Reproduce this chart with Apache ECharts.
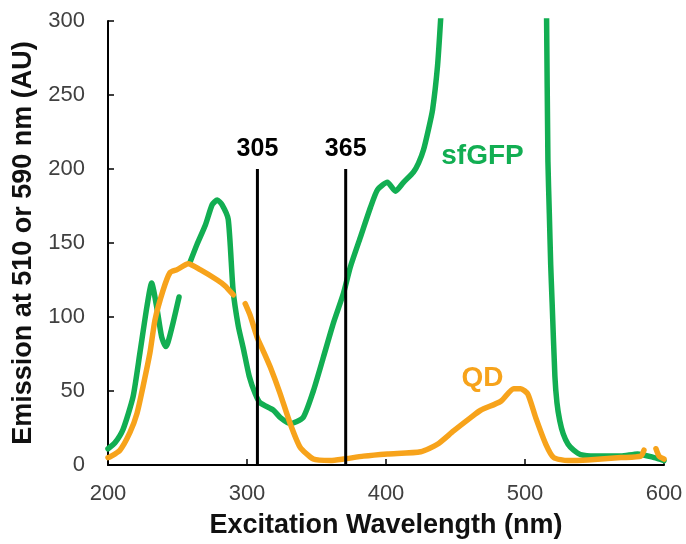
<!DOCTYPE html>
<html>
<head>
<meta charset="utf-8">
<script src="https://cdn.jsdelivr.net/npm/echarts@6/dist/echarts.min.js"></script>
<style>
  html, body { margin: 0; padding: 0; background: #fff; }
  #chart { width: 686px; height: 544px; }
</style>
</head>
<body>
<div id="chart"></div>
<script>
// ---- Data ----
const sfgfpWavelength = [200, 205, 210.8, 218, 223, 228, 231.4, 235, 238.6, 241.5, 243.2, 246.8, 251.1, 255,
  259, 264, 270, 275, 278.6, 282, 286.5, 290, 293.7, 297.3, 301.6, 306, 309.5, 319, 324, 331, 340.3, 347.7,
  355, 362.2, 369.4, 374.4, 381.6, 388.8, 393.9, 401, 406.8, 412.6, 419.8, 423.4, 427, 430.6, 433.5, 437.1,
  439.3, 441, 450, 470, 490, 505, 512, 515.5, 516.5, 517.5, 518.5, 519.5, 521.5, 523, 525, 527.5, 531, 535,
  540, 550, 569, 581, 593, 600];
const sfgfpEmission = [11, 15, 24, 46, 76, 107, 123, 107, 86.5, 80, 83, 96, 113.5, null,
  137, 149, 162, 176, 179, 176, 166, 118, 94, 79, 60, 48, 42, 37, 32, 28, 32, 50,
  73, 96, 116, 134, 154, 174, 186, 191, 185, 191, 198, 204, 213, 227, 240, 270,
  301, 330, 500, 800, 1000, 900, 600, 305, 205, 170, 135, 110, 60, 42, 30, 21, 14, 10,
  7, 6, 6, 7.5, 5, 3];

const qdWavelength = [200, 201.4, 208.6, 215.8, 220.9, 225.2, 230.2, 233.8, 239.6, 244.6, 249.7, 257.7, 266.3,
  278.6, 284.3, 290.1, 294, 298.7, 302.3, 307.4, 311.7, 316.8, 323.7, 330.9, 338.1, 347.7, 360, 369.4,
  383.8, 401, 425, 437, 448.6, 460.9, 468.1, 482.5, 491.9, 496.9, 502, 507.7, 515, 520.7, 530.8, 545.2,
  569, 583.4, 585.6, 590, 594.2, 596.4, 600];
const qdEmission = [5, 5.4, 10, 22, 35, 53, 76, 98, 118, 130, 132, 136, 132,
  125, 121, 115, null, 109, 101, 86, 77, 66, 48.6, 28.4, 12.2, 4, 3, 4,
  6, 7.5, 9, 14, 23, 32, 37, 43, 51.6, 51.6, 48, 32, 14, 5, 3, 3.4,
  5, 6, 10, null, 11, 6, 4];

const markerWavelengths = [307.5, 371];
const markerLabels = ['305', '365'];
const markerTop = 200;

const annotationText = ['sfGFP', 'QD'];
const annotationX = [469.4, 469.4];
const annotationY = [208.3, 58.8];

const xTickMin = 200, xTickMax = 600, xTickStep = 100;
const yTickMin = 0, yTickMax = 300, yTickStep = 50;

// ---- Styles ----
const GREEN = '#12AE52';
const ORANGE = '#F7A31B';
const FONT = 'Liberation Sans, Arial, sans-serif';

function zip(xs, ys) { return xs.map((x, i) => [x, ys[i]]); }

const markerLineSeries = markerWavelengths.map((wl) => ({
  type: 'line',
  data: [[wl, 0], [wl, markerTop]],
  showSymbol: false,
  lineStyle: { color: '#000', width: 3 },
  silent: true, z: 5
}));

const markerLabelSeries = {
  type: 'scatter',
  data: markerWavelengths.map((wl, i) => ({ value: [wl, markerTop], name: markerLabels[i] })),
  symbol: 'circle', symbolSize: 0,
  itemStyle: { color: '#000', opacity: 1 },
  label: {
    show: true, formatter: (p) => p.name, position: 'top', distance: 7,
    fontFamily: FONT, fontSize: 25, fontWeight: 'bold', color: '#000', opacity: 1
  },
  silent: true, z: 6
};

const annotationSeries = annotationText.map((t, i) => ({
  type: 'scatter',
  data: [{ value: [annotationX[i], annotationY[i]], name: t }],
  symbol: 'circle', symbolSize: 0,
  itemStyle: { color: i === 0 ? GREEN : ORANGE, opacity: 1 },
  label: {
    show: true, formatter: (p) => p.name, position: 'inside',
    fontFamily: FONT, fontSize: 28, fontWeight: 'bold',
    color: i === 0 ? GREEN : ORANGE, opacity: 1, textBorderWidth: 0
  },
  silent: true, z: 6
}));

const axisCommon = {
  axisLine: { show: true, lineStyle: { color: '#000', width: 2 } },
  axisTick: { show: true, inside: true, length: 6, lineStyle: { color: '#000', width: 1.5 } },
  splitLine: { show: false },
  nameLocation: 'middle',
  nameTextStyle: { fontFamily: FONT, fontSize: 27, fontWeight: 'bold', color: '#111' }
};

const chart = echarts.init(document.getElementById('chart'), null, { renderer: 'canvas' });
chart.setOption({
  animation: false,
  backgroundColor: '#fff',
  grid: { left: 108, right: 22, top: 21, bottom: 79, containLabel: false },
  xAxis: Object.assign({}, axisCommon, {
    type: 'value', min: xTickMin, max: xTickMax, interval: xTickStep,
    name: 'Excitation Wavelength (nm)', nameGap: 47,
    axisLabel: { fontFamily: FONT, fontSize: 22, color: '#404040', margin: 18 }
  }),
  yAxis: Object.assign({}, axisCommon, {
    type: 'value', min: yTickMin, max: yTickMax, interval: yTickStep,
    name: 'Emission at 510 or 590 nm (AU)', nameGap: 70, nameRotate: 90,
    axisLabel: { fontFamily: FONT, fontSize: 22, color: '#404040', margin: 23 }
  }),
  series: [
    {
      name: 'sfGFP', type: 'line', data: zip(sfgfpWavelength, sfgfpEmission),
      showSymbol: false, connectNulls: false, clip: true, smooth: 0.2,
      lineStyle: { color: GREEN, width: 5.5, cap: 'round', join: 'round' }, z: 3
    },
    {
      name: 'QD', type: 'line', data: zip(qdWavelength, qdEmission),
      showSymbol: false, connectNulls: false, clip: true, smooth: 0.2,
      lineStyle: { color: ORANGE, width: 5.5, cap: 'round', join: 'round' }, z: 4
    }
  ].concat(markerLineSeries, [markerLabelSeries], annotationSeries)
});
</script>
</body>
</html>
